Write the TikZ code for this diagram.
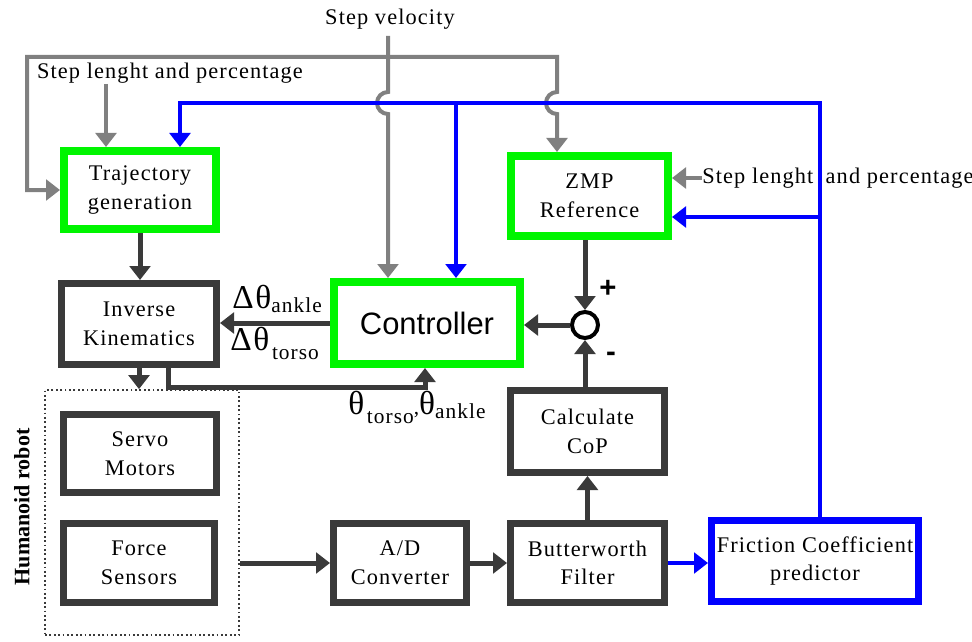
\documentclass[tikz,border=0pt]{standalone}
\usepackage{fontspec}
\setmainfont{Liberation Serif}
\newfontfamily\boxfont[LetterSpace=5]{Liberation Serif}
\newfontfamily\arialfont{Liberation Sans}
\usetikzlibrary{arrows.meta}

\definecolor{boxgreen}{RGB}{0,245,0}
\definecolor{linkblue}{RGB}{0,0,255}
\definecolor{inputgray}{RGB}{128,128,128}
\definecolor{darkline}{RGB}{58,58,58}

% large Greek letters in the angle labels
\newcommand{\greekbig}[1]{{\fontsize{25}{25}\selectfont #1}}

\begin{document}
\begin{tikzpicture}[x=0.75pt,y=-0.75pt,
  >={Triangle[width=15.5pt,length=10.5pt]},
  wh/.style 2 args={minimum width=#1*0.75pt, minimum height=#2*0.75pt},
  box/.style={draw=darkline, line width=5.25pt, fill=white, align=center,
    inner sep=0pt, font=\boxfont\fontsize{16.75}{21.5}\selectfont},
  greenbox/.style={box, draw=boxgreen, line width=6pt},
  bluebox/.style={box, draw=linkblue, line width=5.25pt},
  gline/.style={draw=inputgray, line width=3pt},
  bline/.style={draw=linkblue, line width=3.2pt},
  dline/.style={draw=darkline, line width=3.75pt},
  lbl/.style={font=\boxfont\fontsize{16.75}{19}\selectfont, inner sep=0pt},
  greek/.style={inner sep=0pt, font=\boxfont\fontsize{16}{18}\selectfont},
  sign/.style={inner sep=0pt, font=\arialfont\bfseries\fontsize{22}{22}\selectfont},
]
% page frame
\fill[white] (0,0) rectangle (972,642);
\useasboundingbox (0,0) rectangle (972,642);

% ---------------- blocks ----------------
\node[greenbox, wh={152}{78}] (traj) at (140,190) {Trajectory\\generation};
\node[greenbox, wh={157}{80}] (zmp) at (589.5,196) {ZMP\\Reference};
\node[box, wh={155}{81}] (ik) at (139,324) {Inverse\\Kinematics};
\node[greenbox, wh={186}{82}, font=\arialfont\fontsize{23.2}{23}\selectfont] (ctrl) at (427,323) {Controller};
\node[box, wh={154}{82}] (cop) at (587.5,431.5) {Calculate\\CoP};
\node[draw=darkline, dotted, line width=1.3pt, wh={194}{245}, inner sep=0pt] (robot) at (142,512.5) {};
\node[box, wh={153}{78}] (servo) at (140,453.5) {Servo\\Motors};
\node[box, wh={151}{79}] (force) at (139,563) {Force\\Sensors};
\node[box, wh={133}{79}] (ad) at (400,563) {A/D\\Converter};
\node[box, wh={154}{79}] (butter) at (587.5,563) {Butterworth\\Filter};
\node[bluebox, wh={207}{81}] (fric) at (815,561) {Friction Coefficient\\predictor};
\node[circle, draw=black, line width=3pt, minimum size=26*0.75pt, inner sep=0pt] (sum) at (585,325) {};

\node[rotate=90, inner sep=0pt, font=\bfseries\fontsize{16.5}{18}\selectfont] (robotlbl) at (22,507) {Humanoid robot};

% ---------------- external inputs ----------------
\node[lbl] (sv) at (390,19) {Step velocity};
\node[lbl] (sl1) at (170,73) {Step lenght and percentage};

\coordinate (svtop) at (388,36);
\coordinate (loopL) at (27,57);
\coordinate (loopR) at (557,57);
\coordinate (sl1a) at (106,84);

\draw[gline,<->] (traj.west) -- (loopL |- traj.west) -- (loopL) -- (loopR)
  -- (557,92) arc[start angle=90, end angle=270, radius=8.25pt] -- (loopR |- zmp.north);
\draw[gline,->] (svtop) -- (388,92) arc[start angle=90, end angle=270, radius=8.25pt]
  -- (svtop |- ctrl.north);
\draw[gline,->] (sl1a) -- (sl1a |- traj.north);

% ---------------- friction feedback (blue) ----------------
\coordinate (bl) at (180,103);
\coordinate (bm) at (456,103);
\coordinate (br) at (820,103);
\coordinate (bz) at (820,217);
\draw[bline,->] (br |- fric.north) -- (br) -- (bl) -- (bl |- traj.north);
\draw[bline,->] (bm) -- (bm |- ctrl.north);
\draw[bline,->] (bz) -- (bz -| zmp.east);
\draw[bline,->] (butter.east) -- (butter.east -| fric.west);

\node[lbl, anchor=west] (sl2) at (702,178) {Step lenght\hspace{0.25em} and percentage};
\draw[gline,->] (sl2.west) -- (sl2.west -| zmp.east);

% ---------------- main loop ----------------
\coordinate (fbx) at (168,387);
\coordinate (fby) at (425,387);
\draw[dline,->] (traj.south) -- (traj.south |- ik.north);
\draw[dline,->] (ctrl.west) -- (ctrl.west -| ik.east);
\draw[dline,->] (ik.south) -- (ik.south |- robot.north);
\draw[dline,->] (fbx |- ik.south) -- (fbx) -- (fby) -- (fby |- ctrl.south);
\draw[dline,->] (sum.north |- zmp.south) -- (sum.north);
\draw[dline,->] (sum.south |- cop.north) -- (sum.south);
\draw[dline,->] (sum.west) -- (sum.west -| ctrl.east);
\draw[dline,->] (butter.north) -- (butter.north |- cop.south);
\draw[dline,->] (robot.east |- force.east) -- (ad.west);
\draw[dline,->] (ad.east) -- (ad.east -| butter.west);

% ---------------- signal labels ----------------
\node[sign] (plus) at (608,289) {+};
\node[sign] (minus) at (611,357) {-};
\node[greek, anchor=base west] (dank) at (232,308)
  {\greekbig{Δθ}\raisebox{-3.5pt}{ankle}};
\node[greek, anchor=base west] (dtor) at (230,350)
  {\greekbig{Δθ}\hspace{2pt}\raisebox{-7pt}{torso}};
\node[greek, anchor=base west] (thfb) at (348,414)
  {\greekbig{θ}\hspace{2pt}\raisebox{-7pt}{torso},\greekbig{θ}\raisebox{-3.5pt}{ankle}};
\end{tikzpicture}
\end{document}
